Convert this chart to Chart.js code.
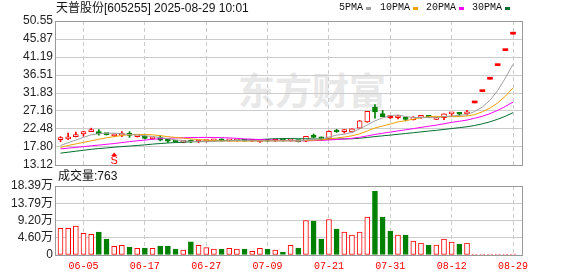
<!DOCTYPE html>
<html lang="zh-CN">
<head>
  <meta charset="UTF-8" />
  <title>天普股份 日K</title>
  <script src="https://cdn.jsdelivr.net/npm/chart.js"></script>
  <style>
    body { margin: 0; background: #fff; }
    #wrap { position: relative; width: 578px; height: 276px; overflow: hidden; font-family: "Liberation Sans", "Noto Sans CJK SC", sans-serif; }
    #wrap canvas { position: absolute; left: 0; }
    .txt { position: absolute; white-space: pre; color: #111; }
    .mono { font-family: "Liberation Mono", "DejaVu Sans Mono", monospace; font-size: 10px; line-height: 12px; }
    .swatch { position: absolute; width: 5px; height: 3px; }
    #watermark { position: absolute; left: 238px; top: 71px; font: 700 37px/37px "Noto Sans CJK SC", sans-serif; color: #e8e8e8; }
  </style>
</head>
<body>
  <div id="wrap">
    <div id="watermark">东方财富</div>
    <canvas id="priceChart" width="578" height="170" style="top:0"></canvas>
    <canvas id="volChart" width="578" height="106" style="top:170px"></canvas>
    <div class="txt" style="left:56px; top:1px; font-size:12px; line-height:14px;">天普股份[605255] 2025-08-29 10:01</div>
    <div class="txt mono" style="left:339px; top:2px;">5PMA</div>
    <div class="swatch" style="left:366px; top:7px; background:#a0a0a0;"></div>
    <div class="txt mono" style="left:380px; top:2px;">10PMA</div>
    <div class="swatch" style="left:413px; top:7px; background:#f0a000;"></div>
    <div class="txt mono" style="left:426px; top:2px;">20PMA</div>
    <div class="swatch" style="left:459px; top:7px; background:#ff00ff;"></div>
    <div class="txt mono" style="left:472px; top:2px;">30PMA</div>
    <div class="swatch" style="left:505px; top:7px; background:#006f2e;"></div>
    <div class="txt" style="left:58px; top:169px; font-size:12px; line-height:14px;">成交量:763</div>
  </div>
  <script>
    // daily bars, 2025-05-30 .. 2025-08-29 (suspended 08-15 .. 08-21)
    const dates = ['05-30', '06-03', '06-04', '06-05', '06-06', '06-09', '06-10', '06-11', '06-12', '06-13',
      '06-16', '06-17', '06-18', '06-19', '06-20', '06-23', '06-24', '06-25', '06-26', '06-27',
      '06-30', '07-01', '07-02', '07-03', '07-04', '07-07', '07-08', '07-09', '07-10', '07-11',
      '07-14', '07-15', '07-16', '07-17', '07-18', '07-21', '07-22', '07-23', '07-24', '07-25',
      '07-28', '07-29', '07-30', '07-31', '08-01', '08-04', '08-05', '08-06', '08-07', '08-08',
      '08-11', '08-12', '08-13', '08-14', '08-22', '08-25', '08-26', '08-27', '08-28', '08-29'];

    const opens = [19.7, 19.9, 20.5, 21.2, 21.8, 21.8, 21.1, 20.7, 20.9, 21.2,
      20.5, 20.6, 19.9, 20.4, 19.5, 19.3, 19.0, 19.3, 19.1, 19.2,
      19.4, 19.8, 19.4, 19.4, 19.5, 19.3, 19.1, 19.4, 19.3, 19.4,
      19.4, 19.5, 19.3, 20.6, 20.3, 20.0, 22.2, 21.8, 21.7, 22.7,
      24.3, 28.2, 26.5, 25.4, 25.4, 25.1, 24.9, 25.5, 25.8, 25.0,
      25.4, 26.4, 26.4, 26.4, 29.26, 32.19, 35.41, 38.95, 42.85, 47.13];
    const highs = [20.5, 21.4, 21.7, 21.9, 22.7, 22.3, 21.2, 21.2, 21.8, 21.8,
      20.8, 20.7, 20.3, 20.7, 19.7, 19.4, 19.3, 19.6, 19.5, 19.5,
      19.7, 19.9, 19.6, 19.6, 19.6, 19.4, 19.5, 19.5, 19.5, 19.5,
      19.8, 19.6, 20.6, 21.2, 20.4, 22.0, 22.4, 22.3, 22.5, 24.7,
      27.06, 28.8, 27.3, 25.6, 26.0, 25.5, 25.7, 26.0, 25.9, 25.4,
      26.4, 26.6, 26.7, 27.3, 29.26, 32.19, 35.41, 38.95, 42.85, 47.13];
    const lows = [19.2, 19.7, 20.4, 20.6, 21.8, 20.9, 20.9, 20.5, 20.5, 20.3,
      20.4, 19.9, 19.8, 19.4, 19.0, 19.0, 18.9, 18.9, 18.9, 19.1,
      19.3, 19.3, 19.3, 19.3, 19.3, 19.2, 19.0, 19.2, 19.2, 19.3,
      19.3, 19.1, 19.2, 20.2, 19.7, 19.9, 21.6, 21.4, 21.6, 22.6,
      24.2, 25.3, 25.6, 25.2, 25.1, 24.6, 24.8, 25.2, 25.4, 24.9,
      24.9, 25.7, 25.9, 26.1, 29.26, 32.19, 35.41, 38.95, 42.85, 47.13];
    const closes = [19.9, 20.3, 21.0, 21.8, 21.9, 21.2, 21.0, 21.1, 21.0, 20.8,
      20.7, 20.0, 20.2, 19.6, 19.3, 19.1, 19.2, 19.1, 19.2, 19.4,
      19.6, 19.4, 19.5, 19.5, 19.3, 19.35, 19.4, 19.3, 19.4, 19.35,
      19.6, 19.2, 20.6, 20.3, 19.9, 21.9, 21.7, 21.9, 22.5, 24.6,
      27.06, 26.9, 25.7, 25.4, 25.6, 25.0, 25.6, 25.6, 25.5, 25.3,
      26.4, 26.6, 26.3, 26.6, 29.26, 32.19, 35.41, 38.95, 42.85, 47.13];

    // 成交量, 万手
    const volumes = [7.08, 7.08, 7.7, 5.75, 5.48, 6.1, 4.25, 2.3, 2.56, 2.12,
      1.77, 1.86, 1.77, 2.39, 2.39, 1.59, 1.33, 3.54, 2.56, 1.95,
      1.59, 1.59, 1.77, 1.59, 1.59, 0.97, 1.77, 1.59, 1.33, 0.8,
      2.56, 1.86, 9.2, 9.02, 4.25, 9.47, 6.9, 6.1, 5.31, 6.1,
      10.08, 16.98, 10.08, 6.37, 5.31, 5.31, 3.72, 3.18, 2.65, 2.65,
      4.25, 3.45, 2.92, 3.18, 0.08, 0.06, 0.05, 0.07, 0.06, 0.0763];

    const ma5 = [18.2, 18.9, 19.6, 20.3, 20.98, 21.24, 21.38, 21.40, 21.24, 21.02,
      20.92, 20.72, 20.54, 20.26, 19.96, 19.64, 19.48, 19.26, 19.18, 19.20,
      19.30, 19.34, 19.42, 19.48, 19.46, 19.41, 19.41, 19.37, 19.35, 19.36,
      19.41, 19.37, 19.63, 19.81, 19.92, 20.38, 20.88, 21.14, 21.58, 22.52,
      23.55, 24.59, 25.35, 25.93, 26.13, 25.72, 25.46, 25.44, 25.46, 25.40,
      25.68, 25.88, 26.02, 26.24, 27.03, 28.19, 29.95, 32.48, 35.73, 39.31];
    const ma10 = [17.7, 18.2, 18.6, 19.0, 19.4, 19.8, 20.2, 20.5, 20.8, 21.00,
      21.08, 21.05, 20.97, 20.75, 20.49, 20.28, 20.10, 19.90, 19.72, 19.58,
      19.47, 19.41, 19.34, 19.33, 19.33, 19.36, 19.38, 19.40, 19.42, 19.41,
      19.41, 19.39, 19.50, 19.58, 19.64, 19.90, 20.13, 20.39, 20.70, 21.22,
      21.97, 22.74, 23.25, 23.76, 24.33, 24.64, 25.03, 25.40, 25.70, 25.77,
      25.70, 25.67, 25.73, 25.85, 26.22, 26.94, 27.92, 29.25, 30.99, 33.17];
    const ma20 = [17.3, 17.5, 17.7, 17.9, 18.1, 18.3, 18.5, 18.7, 18.95, 19.2,
      19.4, 19.6, 19.8, 19.95, 20.05, 20.15, 20.2, 20.25, 20.28, 20.29,
      20.28, 20.23, 20.16, 20.04, 19.91, 19.82, 19.74, 19.65, 19.57, 19.50,
      19.44, 19.40, 19.42, 19.46, 19.49, 19.63, 19.75, 19.89, 20.06, 20.32,
      20.69, 21.06, 21.37, 21.67, 21.98, 22.27, 22.58, 22.89, 23.20, 23.49,
      23.83, 24.20, 24.49, 24.80, 25.27, 25.79, 26.47, 27.32, 28.34, 29.47];
    const ma30 = [16.2, 16.45, 16.7, 16.95, 17.2, 17.4, 17.55, 17.75, 17.9, 18.05,
      18.2, 18.35, 18.55, 18.7, 18.85, 18.95, 19.05, 19.15, 19.2, 19.3,
      19.4, 19.45, 19.5, 19.55, 19.6, 19.65, 19.75, 19.85, 19.95, 20.00,
      19.99, 19.95, 19.94, 19.89, 19.82, 19.84, 19.87, 19.89, 19.94, 20.07,
      20.28, 20.51, 20.70, 20.89, 21.10, 21.30, 21.51, 21.73, 21.94, 22.13,
      22.36, 22.60, 22.83, 23.06, 23.39, 23.82, 24.36, 25.01, 25.79, 26.72];

    const tickDates = ['06-05', '06-17', '06-27', '07-09', '07-21', '07-31', '08-12', '08-29'];
    const priceTicks = [13.12, 17.80, 22.48, 27.16, 31.83, 36.51, 41.19, 45.87, 50.55];
    const volumeTicks = [0, 4.60, 9.20, 13.79, 18.39];
    const signalMarks = [{ date: '06-11', text: 'S' }];

    const UP = '#ff0000';
    const DOWN = '#008000';
    const FONT = "'Liberation Sans', 'Noto Sans CJK SC', sans-serif";
    const tickIndex = tickDates.map(d => dates.indexOf(d));

    const candleUp = closes.map((c, i) => c >= opens[i]);
    const flat = closes.map((c, i) => c === opens[i]);
    const volUp = closes.map((c, i) => c > opens[i] || (c === opens[i] && (i === 0 || c >= closes[i - 1])));

    Chart.defaults.font.family = FONT;

    // keep the plot box where the reference has it, whatever the labels want
    const noPad = s => { s.paddingLeft = 0; s.paddingRight = 0; s.paddingTop = 0; s.paddingBottom = 0; };

    const framePlugin = {
      id: 'frame',
      afterDraw(chart) {
        const { ctx, chartArea: a } = chart;
        ctx.save();
        ctx.strokeStyle = '#999999';
        ctx.lineWidth = 1;
        ctx.strokeRect(Math.round(a.left) - 0.5, Math.round(a.top) + 0.5,
          Math.round(a.right - a.left) + 1, Math.round(a.bottom - a.top));
        ctx.restore();
      }
    };

    const signalPlugin = {
      id: 'signals',
      afterDatasetsDraw(chart) {
        const { ctx, scales } = chart;
        ctx.save();
        signalMarks.forEach(s => {
          const i = dates.indexOf(s.date);
          const x = scales.x.getPixelForValue(i);
          const y = scales.y.getPixelForValue(lows[i]) + 16;
          ctx.fillStyle = UP;
          ctx.beginPath();
          ctx.moveTo(x, y);
          ctx.lineTo(x - 3, y + 3.5);
          ctx.lineTo(x + 3, y + 3.5);
          ctx.closePath();
          ctx.fill();
          ctx.font = '11px ' + FONT;
          ctx.textAlign = 'center';
          ctx.textBaseline = 'top';
          ctx.fillText(s.text, x, y + 3);
        });
        ctx.restore();
      }
    };

    const xScale = (showLabels) => ({
      type: 'linear',
      min: -0.587,
      max: 60.17,
      bounds: 'data',
      offset: false,
      afterBuildTicks: s => { s.ticks = tickIndex.map(v => ({ value: v })); },
      afterFit: s => { s.height = showLabels ? 21 : 0; noPad(s); },
      ticks: {
        display: showLabels,
        autoSkip: false,
        maxRotation: 0,
        padding: 5,
        color: UP,
        font: { family: "'Liberation Mono', 'DejaVu Sans Mono', monospace", size: 10 },
        callback: v => dates[v]
      },
      grid: { color: '#cccccc', drawTicks: false, offset: false },
      border: { display: false, dash: [4, 3] }
    });

    const yScale = (min, max, ticks, fmt) => ({
      min, max,
      bounds: 'data',
      afterBuildTicks: s => { s.ticks = ticks.map(v => ({ value: v })); },
      afterFit: s => { s.width = 56; noPad(s); },
      ticks: { color: '#222222', padding: 3, autoSkip: false, font: { size: 12 }, callback: fmt },
      grid: { color: '#cccccc', drawTicks: false },
      border: { display: false }
    });

    const maLine = (label, values, color) => ({
      type: 'line',
      label,
      data: values.map((v, i) => ({ x: i, y: v })),
      borderColor: color,
      borderWidth: 1,
      pointRadius: 0,
      tension: 0,
      order: 0
    });

    new Chart(document.getElementById('priceChart'), {
      type: 'bar',
      data: {
        datasets: [
          maLine('5PMA', ma5, '#a0a0a0'),
          maLine('10PMA', ma10, '#f0a000'),
          maLine('20PMA', ma20, '#ff00ff'),
          maLine('30PMA', ma30, '#006f2e'),
          {
            label: 'body',
            data: opens.map((o, i) => ({ x: i, y: [Math.min(o, closes[i]), Math.max(o, closes[i])] })),
            // one-price bars become a solid dash
            backgroundColor: candleUp.map((u, i) => flat[i] ? UP : (u ? '#ffffff' : DOWN)),
            borderColor: candleUp.map(u => u ? UP : DOWN),
            borderWidth: flat.map(f => f ? 0 : 1),
            borderSkipped: false,
            barThickness: 5,
            minBarLength: 2,
            grouped: false,
            order: 1
          },
          {
            label: 'wick',
            data: lows.map((l, i) => ({ x: i, y: [l, highs[i]] })),
            backgroundColor: candleUp.map(u => u ? UP : DOWN),
            borderWidth: 0,
            barThickness: 1,
            minBarLength: 1,
            grouped: false,
            order: 2
          }
        ]
      },
      options: {
        responsive: false,
        animation: false,
        devicePixelRatio: 1,
        layout: { padding: { left: 0, right: 56, top: 21, bottom: 5 } },
        plugins: { legend: { display: false }, tooltip: { enabled: false } },
        scales: {
          x: xScale(false),
          y: yScale(13.12, 50.55, priceTicks, v => v.toFixed(2))
        }
      },
      plugins: [framePlugin, signalPlugin]
    });

    new Chart(document.getElementById('volChart'), {
      type: 'bar',
      data: {
        datasets: [{
          label: '成交量',
          data: volumes.map((v, i) => ({ x: i, y: v })),
          backgroundColor: volUp.map(u => u ? '#ffffff' : DOWN),
          borderColor: volUp.map(u => u ? UP : DOWN),
          borderWidth: 1,
          borderSkipped: false,
          barThickness: 5,
          minBarLength: 1,
          grouped: false
        }]
      },
      options: {
        responsive: false,
        animation: false,
        devicePixelRatio: 1,
        layout: { padding: { left: 0, right: 56, top: 16, bottom: 0 } },
        plugins: { legend: { display: false }, tooltip: { enabled: false } },
        scales: {
          x: xScale(true),
          y: yScale(0, 18.39, volumeTicks, v => v === 0 ? '0' : v.toFixed(2) + '万')
        }
      },
      plugins: [framePlugin]
    });
  </script>
</body>
</html>
